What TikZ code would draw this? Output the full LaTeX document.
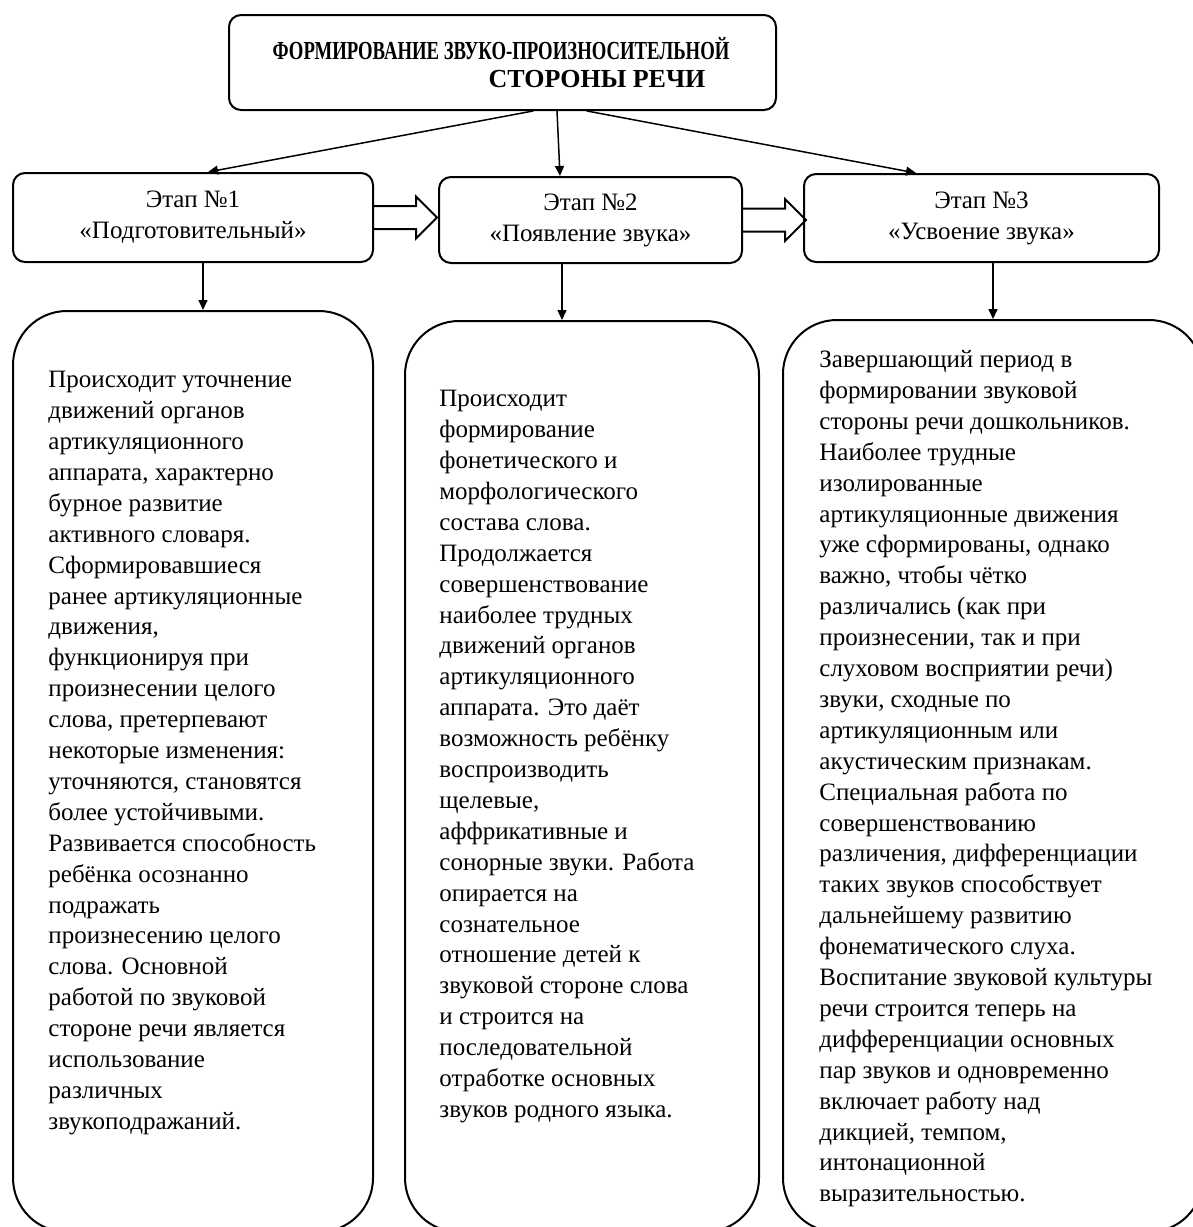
\documentclass[tikz,border=0pt]{standalone}
\usepackage{fontspec}
\setmainfont{Liberation Serif}
\usetikzlibrary{arrows.meta,calc,positioning}

\tikzset{
  box/.style={draw, line width=1pt, rounded corners=6pt, align=center, inner sep=0pt},
  stage/.style={box, font=\fontsize{12.5}{15.45}\selectfont},
  bigbox/.style={draw, line width=1pt, rounded corners=27pt, inner sep=0pt},
  body/.style={anchor=north west, align=left, inner sep=0pt, font=\fontsize{12.5}{15.45}\selectfont},
  headtext/.style={inner sep=0pt, font=\bfseries\fontsize{13}{15}\selectfont},
  arr/.style={line width=0.75pt, -{Triangle[length=5pt,width=4.5pt]}},
  hollow/.pic={\draw[line width=1pt, line join=miter] (0,-11.5) -- (42,-11.5) -- (42,-21) -- (63,0) -- (42,21) -- (42,11.5) -- (0,11.5);}
}

\begin{document}
\begin{tikzpicture}[x=0.5pt,y=-0.5pt,line join=round,line cap=round]
\useasboundingbox (0,0) rectangle (1193,1227);
% title
\node[box, minimum width=273.5pt, minimum height=47.5pt] (title) at (502.5,62.5) {};
\node[headtext] (tl1) at (501,49) {\scalebox{0.72}[1]{ФОРМИРОВАНИЕ ЗВУКО-ПРОИЗНОСИТЕЛЬНОЙ}};
\node[headtext] (tl2) at (597,79) {СТОРОНЫ РЕЧИ};
% stages
\node[stage, minimum width=180pt, minimum height=44.5pt] (s1) at (193,217.5) {Этап №1\\«Подготовительный»};
\node[stage, minimum width=151.5pt, minimum height=43pt] (s2) at (590.5,220) {Этап №2\\«Появление звука»};
\node[stage, minimum width=177.5pt, minimum height=44pt] (s3) at (981.5,218) {Этап №3\\«Усвоение звука»};
\draw[arr] ($(title.south)+(30.5,0)$) -- ($(s1.north)+(15,0)$);
\draw[arr] ($(title.south)+(54.5,0)$) -- ($(s2.north)+(-30.5,0)$);
\draw[arr] ($(title.south)+(84.5,0)$) -- ($(s3.north)+(-65.5,0)$);
\pic (h1) at (s1.east) {hollow};
\pic (h2) at (s2.east) {hollow};
% big boxes
\node[bigbox, minimum width=180pt, minimum height=460.5pt] (b1) at (193,771.5) {};
\node[bigbox, minimum width=177pt, minimum height=455.5pt] (b2) at (582,776.5) {};
\node[bigbox, minimum width=210pt, minimum height=456pt] (b3) at (993,776) {};
\coordinate (d1) at ($(s1.south)+(10,0)$);
\coordinate (d2) at ($(s2.south)+(-28.5,0)$);
\coordinate (d3) at ($(s3.south)+(11.5,0)$);
\draw[arr] (d1) -- (d1 |- b1.north);
\draw[arr] (d2) -- (d2 |- b2.north);
\draw[arr] (d3) -- (d3 |- b3.north);
% texts
\node[body] (t1) at (48,371) {Происходит уточнение\\
движений органов\\
артикуляционного\\
аппарата, характерно\\
бурное развитие\\
активного словаря.\\
Сформировавшиеся\\
ранее артикуляционные\\
движения,\\
функционируя при\\
произнесении целого\\
слова, претерпевают\\
некоторые изменения:\\
уточняются, становятся\\
более устойчивыми.\\
Развивается способность\\
ребёнка осознанно\\
подражать\\
произнесению целого\\
слова. Основной\\
работой по звуковой\\
стороне речи является\\
использование\\
различных\\
звукоподражаний.};
\node[body] (t2) at (439,390) {Происходит\\
формирование\\
фонетического и\\
морфологического\\
состава слова.\\
Продолжается\\
совершенствование\\
наиболее трудных\\
движений органов\\
артикуляционного\\
аппарата. Это даёт\\
возможность ребёнку\\
воспроизводить\\
щелевые,\\
аффрикативные и\\
сонорные звуки. Работа\\
опирается на\\
сознательное\\
отношение детей к\\
звуковой стороне слова\\
и строится на\\
последовательной\\
отработке основных\\
звуков родного языка.};
\node[body] (t3) at (819,350) {Завершающий период в\\
формировании звуковой\\
стороны речи дошкольников.\\
Наиболее трудные\\
изолированные\\
артикуляционные движения\\
уже сформированы, однако\\
важно, чтобы чётко\\
различались (как при\\
произнесении, так и при\\
слуховом восприятии речи)\\
звуки, сходные по\\
артикуляционным или\\
акустическим признакам.\\
Специальная работа по\\
совершенствованию\\
различения, дифференциации\\
таких звуков способствует\\
дальнейшему развитию\\
фонематического слуха.\\
Воспитание звуковой культуры\\
речи строится теперь на\\
дифференциации основных\\
пар звуков и одновременно\\
включает работу над\\
дикцией, темпом,\\
интонационной\\
выразительностью.};
\end{tikzpicture}
\end{document}
